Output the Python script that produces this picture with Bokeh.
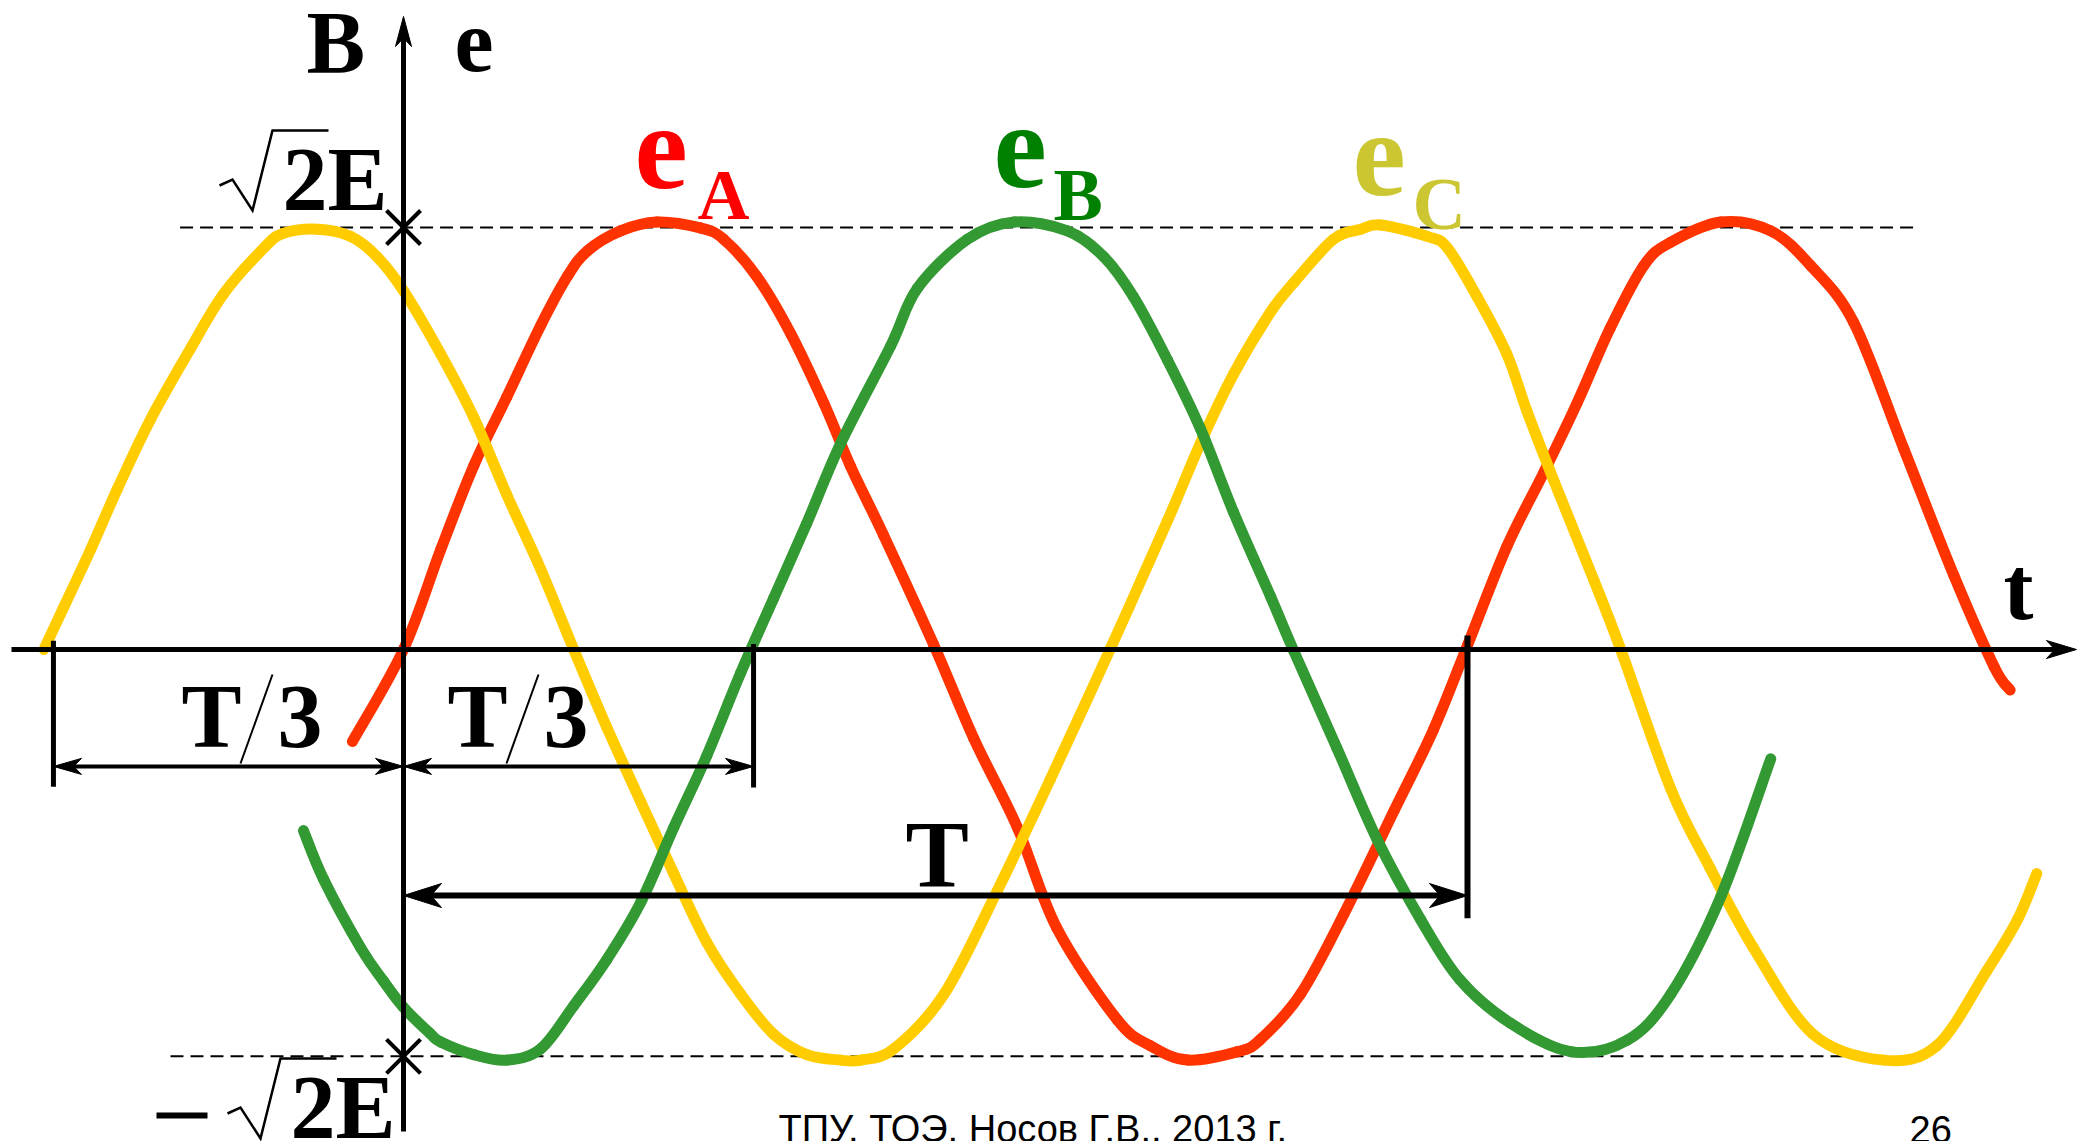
from bokeh.plotting import figure
from bokeh.models import Label, Range1d
from bokeh.embed import file_html
from bokeh.resources import INLINE

# ---------------- data: t in periods T, e in units of sqrt(2)E ----------------
t_A = [-0.048, 0.000, 0.035, 0.066, 0.097, 0.129, 0.154, 0.173, 0.204, 0.238,
       0.279, 0.301, 0.332, 0.364, 0.395, 0.420, 0.451, 0.498, 0.536, 0.577,
       0.614, 0.671, 0.702, 0.737, 0.784, 0.805, 0.843, 0.884, 0.931, 0.968,
       1.000, 1.037, 1.072, 1.103, 1.134, 1.166, 1.191, 1.238, 1.285, 1.322,
       1.363, 1.410, 1.457, 1.495, 1.510]
e_A = [-0.218, 0.000, 0.237, 0.435, 0.598, 0.768, 0.884, 0.945, 0.992, 1.013,
       0.999, 0.972, 0.884, 0.748, 0.584, 0.435, 0.272, 0.013, -0.211, -0.422,
       -0.660, -0.878, -0.939, -0.973, -0.953, -0.925, -0.817, -0.626, -0.382, -0.190,
       0.010, 0.244, 0.421, 0.584, 0.761, 0.911, 0.965, 1.013, 0.992, 0.911,
       0.775, 0.476, 0.176, -0.041, -0.096]

t_B = [-0.094, -0.075, -0.040, -0.019, 0.000, 0.025, 0.035, 0.066, 0.097, 0.129,
       0.160, 0.191, 0.223, 0.254, 0.285, 0.317, 0.348, 0.379, 0.411,
       0.458, 0.483, 0.530, 0.574, 0.624, 0.658, 0.686, 0.718, 0.749, 0.780,
       0.815, 0.837, 0.877, 0.915, 0.956, 0.993, 1.040, 1.097, 1.150, 1.191,
       1.238, 1.285]
e_B = [-0.429, -0.545, -0.708, -0.785, -0.848, -0.910, -0.930, -0.960, -0.973, -0.946,
       -0.844, -0.735, -0.599, -0.422, -0.252, -0.055, 0.122, 0.299, 0.489,
       0.720, 0.856, 0.972, 1.013, 0.992, 0.931, 0.836, 0.686, 0.523, 0.326,
       0.125, -0.005, -0.232, -0.450, -0.640, -0.783, -0.885, -0.953, -0.926, -0.817,
       -0.586, -0.259]

t_C = [-0.338, -0.319, -0.294, -0.269, -0.238, -0.200, -0.169, -0.131, -0.113, -0.081,
       -0.050, -0.025, 0.000, 0.035, 0.066, 0.097, 0.129, 0.160, 0.191, 0.223,
       0.254, 0.285, 0.317, 0.348, 0.379, 0.411, 0.430, 0.461, 0.508, 0.558,
       0.608, 0.664, 0.718, 0.749, 0.780, 0.815, 0.837, 0.874, 0.899, 0.918,
       0.962, 0.981, 1.009, 1.037, 1.056, 1.081, 1.119, 1.144, 1.191, 1.228,
       1.269, 1.325, 1.391, 1.441, 1.488, 1.517, 1.535]
e_C = [0.000, 0.102, 0.237, 0.380, 0.544, 0.714, 0.843, 0.952, 0.986, 0.996,
       0.979, 0.931, 0.850, 0.700, 0.550, 0.367, 0.190, 0.000, -0.184, -0.361,
       -0.531, -0.694, -0.817, -0.912, -0.960, -0.973, -0.973, -0.946, -0.817, -0.572,
       -0.307, 0.000, 0.305, 0.489, 0.652, 0.800, 0.870, 0.972, 0.995, 1.006,
       0.979, 0.952, 0.836, 0.700, 0.564, 0.401, 0.163, 0.000, -0.330, -0.518,
       -0.708, -0.912, -0.973, -0.939, -0.762, -0.640, -0.531]

E_TOP = 1.0          # +sqrt(2)E level
E_BOT = -0.964       # -sqrt(2)E level
dash_top_t = [-0.210, 1.420]
dash_bot_t = [-0.219, 1.360]

T3_LEFT = (-0.329, 0.0)
T3_RIGHT = (0.0, 0.329)
T_SPAN = (0.0, 1.0)

# ---------------- layout ----------------
W, H, M = 2091, 1141, 0
X0, Y0 = 403.0, 649.0          # page position of the origin
PX_T, PX_E = 1064.0, 422.0     # pixels per unit


def to_px(t, e):
    return X0 + t * PX_T, Y0 - e * PX_E


def to_data(px, py):
    return (px - X0) / PX_T, (Y0 - py) / PX_E


p = figure(width=W, height=H, output_backend="svg", toolbar_location=None,
           title=None, x_axis_location=None, y_axis_location=None,
           x_range=Range1d(to_data(M, 0)[0], to_data(M + W, 0)[0]),
           y_range=Range1d(to_data(0, M + H)[1], to_data(0, M)[1]),
           min_border=0, outline_line_color=None,
           background_fill_color="white", border_fill_color="white")
p.grid.visible = False

# dashed amplitude levels
p.line(dash_top_t, [E_TOP, E_TOP], line_color="black", line_width=2, line_dash="13 7")
p.line(dash_bot_t, [E_BOT, E_BOT], line_color="black", line_width=2, line_dash="13 7")


# curves: smooth cubic Bezier segments through the read points (Catmull-Rom tangents)
def smooth_curve(ts, es, color):
    n = len(ts)
    x0, y0, x1, y1, cx0, cy0, cx1, cy1 = ([] for _ in range(8))
    for i in range(n - 1):
        ip, i2 = max(i - 1, 0), min(i + 2, n - 1)
        x0.append(ts[i]); y0.append(es[i])
        x1.append(ts[i + 1]); y1.append(es[i + 1])
        cx0.append(ts[i] + (ts[i + 1] - ts[ip]) / 6.0)
        cy0.append(es[i] + (es[i + 1] - es[ip]) / 6.0)
        cx1.append(ts[i + 1] - (ts[i2] - ts[i]) / 6.0)
        cy1.append(es[i + 1] - (es[i2] - es[i]) / 6.0)
    p.bezier(x0=x0, y0=y0, x1=x1, y1=y1, cx0=cx0, cy0=cy0, cx1=cx1, cy1=cy1,
             line_color=color, line_width=11, line_cap="round")


smooth_curve(t_A, e_A, "#FF3300")
smooth_curve(t_C, e_C, "#FFCC00")
smooth_curve(t_B, e_B, "#339933")


def vee(tip, d, L, hw, back=0.72):
    tx, ty = tip
    dx, dy = d
    bx, by = tx - L * dx, ty - L * dy
    nx, ny = -dy, dx
    ix, iy = tx - back * L * dx, ty - back * L * dy
    pts = [(tx, ty), (bx + hw * nx, by + hw * ny), (ix, iy), (bx - hw * nx, by - hw * ny)]
    xs, ys = zip(*[to_data(*q) for q in pts])
    return list(xs), list(ys)


heads_x, heads_y = [], []

# coordinate axes
ax_left, ax_tip = to_data(11, 0)[0], to_data(2076, 0)[0]
p.line([ax_left, ax_tip - 12 / PX_T], [0, 0], line_color="black", line_width=5)
hx, hy = vee(to_px(ax_tip, 0), (1, 0), 30, 9)
heads_x.append(hx); heads_y.append(hy)

ay_bot, ay_tip = to_data(0, 1131)[1], to_data(0, 16)[1]
p.line([0, 0], [ay_bot, ay_tip - 12 / PX_E], line_color="black", line_width=5)
hx, hy = vee(to_px(0, ay_tip), (0, -1), 30, 8)
heads_x.append(hx); heads_y.append(hy)

# dimension lines
E_DIM3 = -0.277
E_DIMT = -0.583


def dim(span, e, L, hw, lw):
    a, b = span
    p.line([a + 0.4 * L / PX_T, b - 0.4 * L / PX_T], [e, e], line_color="black", line_width=lw)
    for t, d in ((a, (-1, 0)), (b, (1, 0))):
        hx, hy = vee(to_px(t, e), d, L, hw)
        heads_x.append(hx); heads_y.append(hy)


dim(T3_LEFT, E_DIM3, 28, 8, 4)
dim(T3_RIGHT, E_DIM3, 28, 8, 4)
dim(T_SPAN, E_DIMT, 38, 12, 6)

# extension ticks
p.line([T3_LEFT[0]] * 2, [0.021, -0.325], line_color="black", line_width=5)
p.line([T3_RIGHT[1]] * 2, [0.013, -0.327], line_color="black", line_width=5)
p.line([T_SPAN[1]] * 2, [0.033, -0.637], line_color="black", line_width=6)

p.patches(heads_x, heads_y, fill_color="black", line_color="black", line_width=1)

# amplitude crosses on the e axis (drawn as two strokes, +-17 px)
cx, cy = [], []
for lvl in (E_TOP, E_BOT):
    px, py = to_px(0, lvl)
    for sgn in (1, -1):
        a = to_data(px - 17, py - 17 * sgn)
        b = to_data(px + 17, py + 17 * sgn)
        cx.append([a[0], b[0]]); cy.append([a[1], b[1]])
p.multi_line(cx, cy, line_color="black", line_width=4)


# ---------------- texts ----------------
BASE_SHIFT = 0.32   # empirical baseline correction of Label rendering (in em)


def lab(text, px, py, size, color="black", font="Liberation Serif", style="bold"):
    y = M + H - (py - BASE_SHIFT * size)
    p.add_layout(Label(x=px - M, y=y, x_units="screen", y_units="screen",
                       text=text, text_font=font, text_font_size=f"{size}px",
                       text_font_style=style, text_color=color,
                       text_baseline="alphabetic", text_align="left"))


def poly(anchor, offsets, lw):
    ax, ay = anchor
    xs, ys = zip(*[to_data(ax + ox, ay + oy) for ox, oy in offsets])
    p.line(list(xs), list(ys), line_color="black", line_width=lw, line_join="miter")


lab("B", 306, 70, 88)
lab("e", 454, 70, 88)

RAD = [(-63, -23), (-50, -29), (-30, 2), (-10, -78), (46, -78)]
lab("2E", 282, 208, 90)
poly((282, 208), RAD, 2.5)
lab("2E", 290, 1136, 90)
poly((290, 1136), RAD, 2.5)
poly((290, 1136), [(-134, -21), (-83, -21)], 6)

lab("e", 634, 186, 120, "#FF0000")
lab("A", 697, 218, 72, "#FF0000")
lab("e", 993, 185, 120, "#008000")
lab("B", 1053, 218, 74, "#008000")
lab("e", 1352, 193, 120, "#CCC633")
lab("C", 1412, 227, 74, "#CCC633")

lab("t", 2003, 617, 90)

SLASH = [(59, 18), (91, -71)]
for ax in (181, 447):
    lab("T", ax, 745, 90)
    lab("3", ax + 96, 745, 90)
    poly((ax, 745), SLASH, 2)

lab("T", 905, 885, 95)

lab("ТПУ, ТОЭ, Носов Г.В., 2013 г.", 778, 1141, 38, font="Liberation Sans", style="normal")
lab("26", 1909, 1141, 38, font="Liberation Sans", style="normal")

open("out.html", "w", encoding="utf-8").write(file_html(p, INLINE, "chart"))
